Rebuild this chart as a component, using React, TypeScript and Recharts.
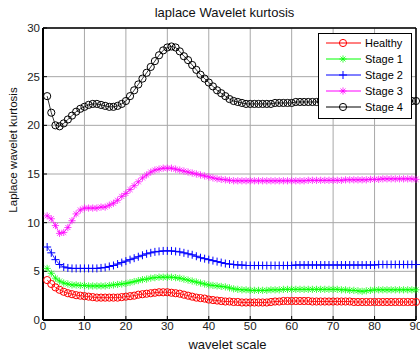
import React from "react";
import { LineChart, Line, XAxis, YAxis, CartesianGrid, ReferenceLine } from "recharts";

const scales: number[] = Array.from({ length: 90 }, (_, i) => i + 1);

const healthy: number[] = [
  4.1, 3.7, 3.35, 3.1, 2.9, 2.75, 2.65, 2.55, 2.5, 2.45,
  2.4, 2.35, 2.3, 2.3, 2.3, 2.3, 2.3, 2.3, 2.35, 2.4,
  2.45, 2.5, 2.6, 2.65, 2.7, 2.75, 2.8, 2.85, 2.85, 2.85,
  2.8, 2.75, 2.7, 2.6, 2.5, 2.4, 2.3, 2.25, 2.2, 2.1,
  2.05, 2.0, 1.95, 1.9, 1.9, 1.85, 1.85, 1.8, 1.8, 1.8,
  1.8, 1.8, 1.8, 1.8, 1.85, 1.9, 1.9, 1.95, 1.95, 1.95,
  1.95, 1.95, 1.95, 1.95, 1.9, 1.9, 1.9, 1.9, 1.9, 1.9,
  1.9, 1.9, 1.9, 1.9, 1.85, 1.85, 1.85, 1.85, 1.85, 1.85,
  1.85, 1.85, 1.85, 1.85, 1.85, 1.85, 1.85, 1.85, 1.85, 1.85,
];

const stage1: number[] = [
  5.3, 4.8, 4.3, 4.0, 3.8, 3.7, 3.6, 3.6, 3.55, 3.55,
  3.5, 3.5, 3.5, 3.5, 3.5, 3.55, 3.6, 3.65, 3.7, 3.75,
  3.85, 3.95, 4.05, 4.15, 4.2, 4.3, 4.35, 4.4, 4.4, 4.4,
  4.4, 4.35, 4.3, 4.2, 4.1, 4.0, 3.9, 3.8, 3.7, 3.6,
  3.55, 3.5, 3.45, 3.4, 3.3, 3.2, 3.15, 3.1, 3.1, 3.05,
  3.05, 3.05, 3.05, 3.05, 3.1, 3.1, 3.1, 3.15, 3.15, 3.15,
  3.15, 3.15, 3.15, 3.15, 3.15, 3.15, 3.15, 3.15, 3.15, 3.15,
  3.15, 3.1, 3.1, 3.05, 3.05, 3.0, 2.95, 3.0, 3.05, 3.1,
  3.1, 3.1, 3.1, 3.1, 3.1, 3.1, 3.1, 3.1, 3.1, 3.1,
];

const stage2: number[] = [
  7.5, 6.9, 6.2, 5.7, 5.45, 5.35, 5.3, 5.3, 5.3, 5.3,
  5.3, 5.3, 5.3, 5.35, 5.4, 5.5, 5.6, 5.75, 5.9, 6.05,
  6.2, 6.35, 6.5, 6.65, 6.8, 6.9, 7.0, 7.05, 7.1, 7.1,
  7.1, 7.05, 7.0, 6.9, 6.8, 6.7, 6.55, 6.4, 6.3, 6.2,
  6.1, 6.0, 5.9, 5.8, 5.75, 5.7, 5.65, 5.65, 5.6, 5.6,
  5.6, 5.6, 5.6, 5.6, 5.6, 5.6, 5.6, 5.6, 5.6, 5.6,
  5.65, 5.65, 5.65, 5.65, 5.65, 5.65, 5.65, 5.65, 5.65, 5.65,
  5.65, 5.65, 5.65, 5.65, 5.65, 5.65, 5.65, 5.65, 5.65, 5.65,
  5.7, 5.7, 5.7, 5.7, 5.7, 5.7, 5.7, 5.7, 5.7, 5.7,
];

const stage3: number[] = [
  10.7, 10.4, 9.7, 8.9, 9.0, 9.5, 10.2, 10.9, 11.3, 11.5,
  11.5, 11.5, 11.5, 11.6, 11.6, 11.8, 12.0, 12.3, 12.7, 13.0,
  13.4, 13.8, 14.2, 14.6, 14.9, 15.2, 15.4, 15.5, 15.6, 15.6,
  15.6, 15.5, 15.4, 15.3, 15.2, 15.1, 15.0, 14.9, 14.8, 14.7,
  14.6, 14.5, 14.45, 14.4, 14.35, 14.3, 14.3, 14.3, 14.3, 14.3,
  14.3, 14.3, 14.3, 14.3, 14.3, 14.3, 14.3, 14.3, 14.3, 14.3,
  14.3, 14.3, 14.3, 14.35, 14.35, 14.35, 14.35, 14.35, 14.35, 14.35,
  14.35, 14.35, 14.4, 14.4, 14.4, 14.4, 14.4, 14.4, 14.45, 14.45,
  14.45, 14.5, 14.5, 14.5, 14.5, 14.5, 14.5, 14.5, 14.5, 14.45,
];

const stage4: number[] = [
  23.0, 21.3, 20.0, 19.9, 20.2, 20.6, 21.0, 21.4, 21.7, 21.9,
  22.1, 22.2, 22.2, 22.1, 22.0, 21.9, 21.9, 22.0, 22.2, 22.5,
  23.0, 23.6, 24.2, 24.8, 25.4, 26.0, 26.6, 27.2, 27.7, 28.0,
  28.1, 28.0, 27.6, 27.1, 26.7, 26.2, 25.7, 25.2, 24.8, 24.4,
  24.0, 23.6, 23.3, 23.0, 22.7, 22.5, 22.4, 22.3, 22.2, 22.2,
  22.2, 22.2, 22.2, 22.2, 22.2, 22.3, 22.3, 22.3, 22.3, 22.3,
  22.4, 22.4, 22.4, 22.4, 22.4, 22.4, 22.5, 22.5, 22.5, 22.5,
  22.5, 22.5, 22.5, 22.5, 22.5, 22.5, 22.5, 22.5, 22.5, 22.5,
  22.5, 22.5, 22.5, 22.5, 22.5, 22.5, 22.5, 22.5, 22.5, 22.5,
];

const seriesNames = ["Healthy", "Stage 1", "Stage 2", "Stage 3", "Stage 4"];
const seriesKeys = ["healthy", "stage1", "stage2", "stage3", "stage4"];
const seriesColors = ["#ff0000", "#00ff00", "#0000ff", "#ff00ff", "#000000"];
const seriesMarkers = ["circle", "star", "plus", "star", "circle"];

const xTicks = [0, 10, 20, 30, 40, 50, 60, 70, 80, 90];
const yTicks = [0, 5, 10, 15, 20, 25, 30];

const data = scales.map((s, i) => ({
  scale: s,
  healthy: healthy[i],
  stage1: stage1[i],
  stage2: stage2[i],
  stage3: stage3[i],
  stage4: stage4[i],
}));

const FONT = "'Liberation Sans', Arial, sans-serif";

function Marker({ type, cx, cy, color }: { type: string; cx: number; cy: number; color: string }) {
  if (type === "circle") {
    return <circle cx={cx} cy={cy} r={3.6} fill="none" stroke={color} strokeWidth={1} />;
  }
  if (type === "plus") {
    return (
      <path
        d={`M${cx - 4},${cy}H${cx + 4}M${cx},${cy - 4}V${cy + 4}`}
        stroke={color}
        strokeWidth={1}
        fill="none"
      />
    );
  }
  const r = 3.6;
  const d2 = r * 0.7;
  return (
    <path
      d={`M${cx - r},${cy}H${cx + r}M${cx},${cy - r}V${cy + r}M${cx - d2},${cy - d2}L${cx + d2},${cy + d2}M${cx - d2},${cy + d2}L${cx + d2},${cy - d2}`}
      stroke={color}
      strokeWidth={1}
      fill="none"
      opacity={0.75}
    />
  );
}

const makeDot = (type: string, color: string) => (p: any) => {
  if (p.cx == null || p.cy == null) return <g key={`e-${p.index}`} />;
  return (
    <g key={`d-${type}-${color}-${p.index}`}>
      <Marker type={type} cx={p.cx} cy={p.cy} color={color} />
    </g>
  );
};

function LegendBox() {
  return (
    <div
      style={{
        position: "absolute",
        left: 318,
        top: 33,
        width: 92,
        height: 84,
        background: "#fff",
        border: "1px solid #000",
        fontFamily: FONT,
        fontSize: 11,
        color: "#000",
      }}
    >
      {seriesNames.map((name, i) => (
        <div key={name} style={{ position: "absolute", left: 0, top: 1 + i * 16, height: 16, width: 92 }}>
          <svg width={40} height={16} style={{ position: "absolute", left: 5, top: 0 }}>
            <line x1={2} y1={8} x2={37} y2={8} stroke={seriesColors[i]} strokeWidth={1} />
            <Marker type={seriesMarkers[i]} cx={19} cy={8} color={seriesColors[i]} />
          </svg>
          <span style={{ position: "absolute", left: 46, top: 1, lineHeight: "14px", whiteSpace: "nowrap" }}>{name}</span>
        </div>
      ))}
    </div>
  );
}

export default function App() {
  return (
    <div style={{ position: "absolute", left: 0, top: 0, width: 420, height: 358, background: "#fff", fontFamily: FONT }}>
      <LineChart width={420} height={358} data={data} margin={{ top: 28, right: 4, left: 0, bottom: 0 }}>
        <CartesianGrid stroke="#a8a8a8" strokeWidth={1} />
        <XAxis
          dataKey="scale"
          type="number"
          domain={[0, 90]}
          ticks={xTicks}
          height={38}
          axisLine={{ stroke: "#000", strokeWidth: 2 }}
          tickLine={{ stroke: "#000" }}
          tickSize={-4}
          tickMargin={6}
          tick={{ fontSize: 11.5, fill: "#222", fontFamily: FONT }}
          interval={0}
        />
        <YAxis
          type="number"
          domain={[0, 30]}
          ticks={yTicks}
          width={43}
          axisLine={{ stroke: "#000", strokeWidth: 2 }}
          tickLine={{ stroke: "#000" }}
          tickSize={-4}
          tickMargin={7}
          tick={{ fontSize: 11.5, fill: "#222", fontFamily: FONT }}
          interval={0}
        />
        <ReferenceLine y={30} stroke="#000" strokeWidth={1.5} />
        <ReferenceLine x={90} stroke="#000" strokeWidth={1.5} />
        {seriesKeys.map((k, i) => (
          <Line
            key={k}
            dataKey={k}
            name={seriesNames[i]}
            stroke={seriesColors[i]}
            strokeWidth={0.8}
            dot={makeDot(seriesMarkers[i], seriesColors[i])}
            activeDot={false}
            isAnimationActive={false}
          />
        ))}
      </LineChart>
      <div
        style={{
          position: "absolute",
          left: 0,
          width: 449,
          top: 5,
          textAlign: "center",
          fontSize: 13,
          color: "#111",
          whiteSpace: "nowrap",
        }}
      >
        laplace Wavelet kurtosis
      </div>
      <div
        style={{
          position: "absolute",
          left: 0,
          width: 455,
          top: 337,
          textAlign: "center",
          fontSize: 13,
          color: "#111",
          whiteSpace: "nowrap",
        }}
      >
        wavelet scale
      </div>
      <div
        style={{
          position: "absolute",
          left: 13,
          top: 150,
          transform: "translate(-50%, -50%) rotate(-90deg)",
          fontSize: 11.5,
          color: "#111",
          whiteSpace: "nowrap",
        }}
      >
        Laplace wavelet kurtosis
      </div>
      <LegendBox />
    </div>
  );
}
